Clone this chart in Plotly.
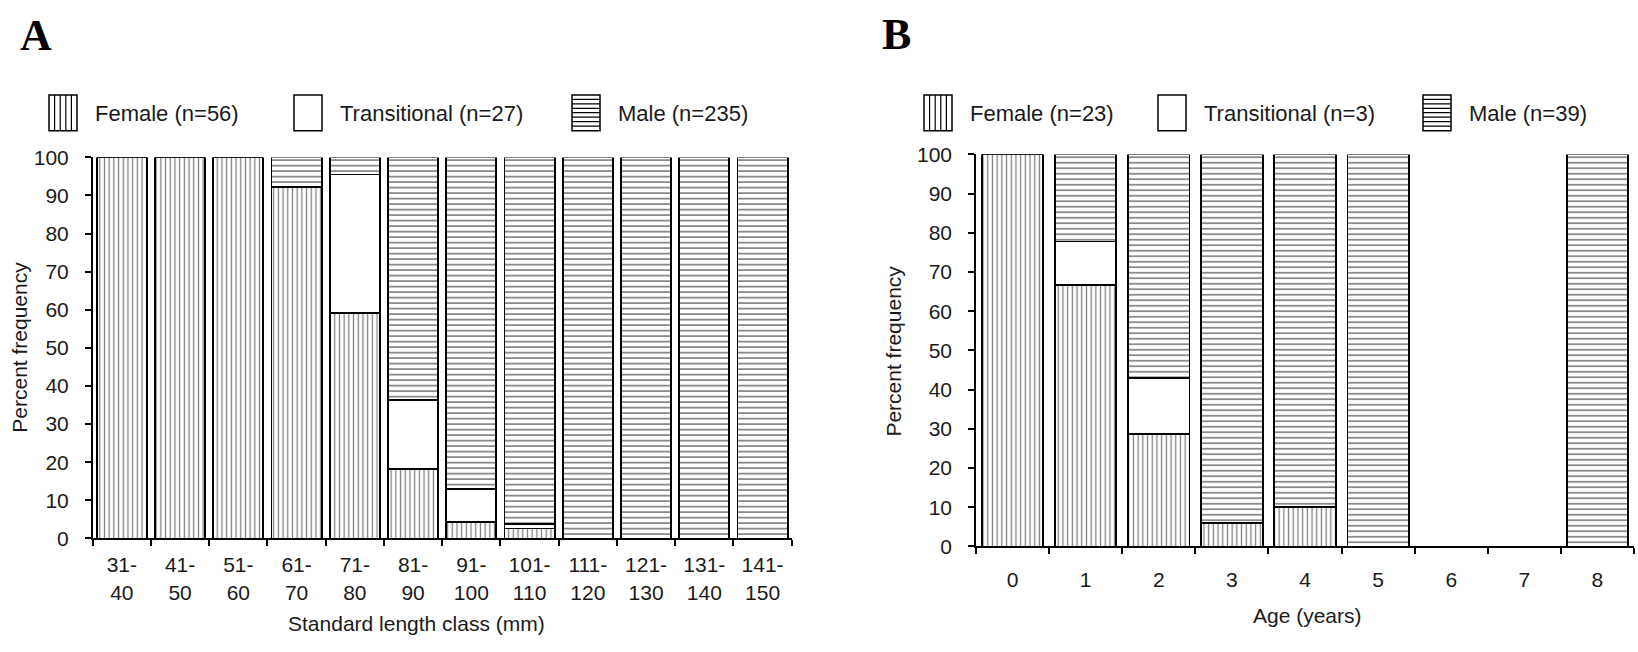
import plotly.graph_objects as go

# ---------------- data ----------------
length_classes = ["31-40", "41-50", "51-60", "61-70", "71-80", "81-90",
                  "91-100", "101-110", "111-120", "121-130", "131-140", "141-150"]
length_ticks = ["31-<br>40", "41-<br>50", "51-<br>60", "61-<br>70", "71-<br>80", "81-<br>90",
                "91-<br>100", "101-<br>110", "111-<br>120", "121-<br>130", "131-<br>140", "141-<br>150"]
female_a = [100, 100, 100, 92.3, 59.1, 18.2, 4.3, 2.6, 0, 0, 0, 0]
trans_a = [0, 0, 0, 0, 36.4, 18.2, 8.7, 1.1, 0, 0, 0, 0]
male_a = [0, 0, 0, 7.7, 4.5, 63.6, 87.0, 96.3, 100, 100, 100, 100]

ages = ["0", "1", "2", "3", "4", "5", "6", "7", "8"]
female_b = [100, 66.7, 28.6, 5.9, 10.0, 0, None, None, 0]
trans_b = [0, 11.1, 14.3, 0, 0, 0, None, None, 0]
male_b = [0, 22.2, 57.1, 94.1, 90.0, 100, None, None, 100]

legend_a = ["Female (n=56)", "Transitional (n=27)", "Male (n=235)"]
legend_b = ["Female (n=23)", "Transitional (n=3)", "Male (n=39)"]
y_title = "Percent frequency"
x_title_a = "Standard length class (mm)"
x_title_b = "Age (years)"

# ---------------- styling ----------------
W, H = 1638, 652
FONT = "Liberation Sans, Arial, sans-serif"
TXT = "#1a1a1a"


def px(x):
    return x / W


def py(y):
    return 1 - y / H


female_pat = dict(shape="|", fgcolor="black", bgcolor="white", size=4.7, solidity=0.27)
male_pat = dict(shape="-", fgcolor="black", bgcolor="white", size=5.5, solidity=0.3)
outline = dict(color="black", width=1.8)

fig = go.Figure()

for cats, f, t, m, xa, ya, w in [
    (length_classes, female_a, trans_a, male_a, "x", "y", 0.86),
    (ages, female_b, trans_b, male_b, "x2", "y2", 0.84),
]:
    fig.add_trace(go.Bar(x=cats, y=f, xaxis=xa, yaxis=ya, width=w, showlegend=False,
                         marker=dict(color="white", line=outline, pattern=female_pat)))
    fig.add_trace(go.Bar(x=cats, y=t, xaxis=xa, yaxis=ya, width=w, showlegend=False,
                         marker=dict(color="white", line=outline)))
    fig.add_trace(go.Bar(x=cats, y=m, xaxis=xa, yaxis=ya, width=w, showlegend=False,
                         marker=dict(color="white", line=outline, pattern=male_pat)))

xcommon = dict(type="category", showline=True, linecolor="black", linewidth=1.5,
               ticks="outside", ticklen=6, tickwidth=1.5, tickcolor="black",
               tickson="boundaries", showgrid=False, zeroline=False,
               tickfont=dict(family=FONT, size=21, color=TXT))
ycommon = dict(range=[0, 100], tick0=0, dtick=10, showline=True, linecolor="black",
               linewidth=1.5, ticks="outside", ticklen=6, tickwidth=1.5, tickcolor="black",
               showgrid=False, zeroline=False, ticklabelstandoff=12,
               tickfont=dict(family=FONT, size=21, color=TXT))

fig.update_layout(
    width=W, height=H, margin=dict(l=0, r=0, t=0, b=0),
    paper_bgcolor="white", plot_bgcolor="white", barmode="stack",
    xaxis=dict(domain=[px(92.7), px(791.7)], anchor="y", ticklabelstandoff=7,
               tickvals=length_classes, ticktext=length_ticks, **xcommon),
    yaxis=dict(domain=[py(545.7), py(150.7)], anchor="x", **ycommon),
    xaxis2=dict(domain=[px(976), px(1634)], anchor="y2", ticklabelstandoff=14,
                tickvals=ages, ticktext=ages, **xcommon),
    yaxis2=dict(domain=[py(554), py(147.7)], anchor="x2", **ycommon),
)

annotations = []
shapes = []

# panel letters
for letter, cx, cy in [("A", 36, 24), ("B", 896, 23)]:
    annotations.append(dict(text="<b>%s</b>" % letter, x=px(cx), y=py(cy), xref="paper", yref="paper",
                            showarrow=False, xanchor="center", yanchor="middle",
                            font=dict(family="Liberation Serif, Times New Roman, serif", size=44, color="black")))

# axis titles
for txt, cx, cy, ang in [(y_title, 20, 348, -90), (x_title_a, 416, 634, 0),
                         (y_title, 894, 351, -90), (x_title_b, 1307, 626, 0)]:
    annotations.append(dict(text=txt, x=px(cx), y=py(cy), xref="paper", yref="paper",
                            showarrow=False, xanchor="center", yanchor="middle", textangle=ang,
                            font=dict(family=FONT, size=21, color=TXT)))


# manual legends
def legend_box(x0, kind, labels_text):
    y0, y1 = 86, 123
    x1 = x0 + 28
    shapes.append(dict(type="rect", xref="paper", yref="paper", x0=px(x0), x1=px(x1),
                       y0=py(y1), y1=py(y0), line=dict(color="black", width=1.5),
                       fillcolor="white"))
    path = ""
    if kind == "v":
        xx = x0 + 5.6
        while xx < x1 - 1:
            path += "M%f,%f L%f,%f " % (px(xx), py(y0), px(xx), py(y1))
            xx += 5.6
    elif kind == "h":
        yy = y0 + 4.6
        while yy < y1 - 1:
            path += "M%f,%f L%f,%f " % (px(x0), py(yy), px(x1), py(yy))
            yy += 4.6
    if path:
        shapes.append(dict(type="path", xref="paper", yref="paper", path=path,
                           line=dict(color="black", width=1.2)))
    annotations.append(dict(text=labels_text, x=px(x1 + 16), y=py(105), xref="paper", yref="paper",
                            showarrow=False, xanchor="left", yanchor="middle",
                            font=dict(family=FONT, size=22, color=TXT)))


for (x0, kind), lab in zip([(49, "v"), (294, "n"), (572, "h")], legend_a):
    legend_box(x0, kind, lab)
for (x0, kind), lab in zip([(924, "v"), (1158, "n"), (1423, "h")], legend_b):
    legend_box(x0, kind, lab)

fig.update_layout(annotations=annotations, shapes=shapes)
fig.write_html("out.html")
